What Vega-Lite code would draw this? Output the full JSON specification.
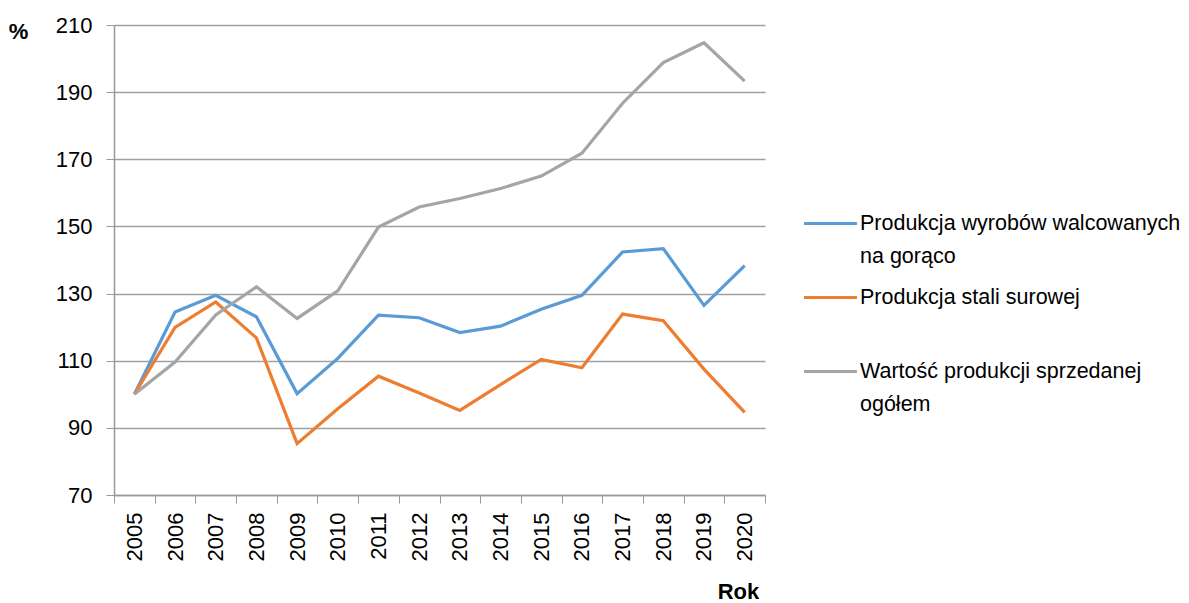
{
  "$schema": "https://vega.github.io/schema/vega-lite/v6.json",
  "width": 651,
  "height": 470,
  "autosize": {"type": "none"},
  "padding": {"left": 114, "top": 25, "right": 424, "bottom": 108},
  "background": "white",
  "config": {
    "view": {"stroke": null},
    "font": "Liberation Sans",
    "style": {"guide-label": {"lineHeight": 33}}
  },
  "data": {
    "values": [
      {"year": "2005", "series": "Produkcja wyrobów walcowanych na gorąco", "value": 100},
      {"year": "2006", "series": "Produkcja wyrobów walcowanych na gorąco", "value": 124.5},
      {"year": "2007", "series": "Produkcja wyrobów walcowanych na gorąco", "value": 129.5},
      {"year": "2008", "series": "Produkcja wyrobów walcowanych na gorąco", "value": 123.1},
      {"year": "2009", "series": "Produkcja wyrobów walcowanych na gorąco", "value": 100.2},
      {"year": "2010", "series": "Produkcja wyrobów walcowanych na gorąco", "value": 110.7},
      {"year": "2011", "series": "Produkcja wyrobów walcowanych na gorąco", "value": 123.6},
      {"year": "2012", "series": "Produkcja wyrobów walcowanych na gorąco", "value": 122.8},
      {"year": "2013", "series": "Produkcja wyrobów walcowanych na gorąco", "value": 118.4},
      {"year": "2014", "series": "Produkcja wyrobów walcowanych na gorąco", "value": 120.3},
      {"year": "2015", "series": "Produkcja wyrobów walcowanych na gorąco", "value": 125.3},
      {"year": "2016", "series": "Produkcja wyrobów walcowanych na gorąco", "value": 129.5},
      {"year": "2017", "series": "Produkcja wyrobów walcowanych na gorąco", "value": 142.4},
      {"year": "2018", "series": "Produkcja wyrobów walcowanych na gorąco", "value": 143.4},
      {"year": "2019", "series": "Produkcja wyrobów walcowanych na gorąco", "value": 126.5},
      {"year": "2020", "series": "Produkcja wyrobów walcowanych na gorąco", "value": 138.3},
      {"year": "2005", "series": "Produkcja stali surowej", "value": 100},
      {"year": "2006", "series": "Produkcja stali surowej", "value": 119.9},
      {"year": "2007", "series": "Produkcja stali surowej", "value": 127.5},
      {"year": "2008", "series": "Produkcja stali surowej", "value": 116.8},
      {"year": "2009", "series": "Produkcja stali surowej", "value": 85.3},
      {"year": "2010", "series": "Produkcja stali surowej", "value": 95.7},
      {"year": "2011", "series": "Produkcja stali surowej", "value": 105.4},
      {"year": "2012", "series": "Produkcja stali surowej", "value": 100.4},
      {"year": "2013", "series": "Produkcja stali surowej", "value": 95.2},
      {"year": "2014", "series": "Produkcja stali surowej", "value": 102.9},
      {"year": "2015", "series": "Produkcja stali surowej", "value": 110.4},
      {"year": "2016", "series": "Produkcja stali surowej", "value": 107.9},
      {"year": "2017", "series": "Produkcja stali surowej", "value": 123.9},
      {"year": "2018", "series": "Produkcja stali surowej", "value": 121.9},
      {"year": "2019", "series": "Produkcja stali surowej", "value": 107.5},
      {"year": "2020", "series": "Produkcja stali surowej", "value": 94.6},
      {"year": "2005", "series": "Wartość produkcji sprzedanej ogółem", "value": 100},
      {"year": "2006", "series": "Wartość produkcji sprzedanej ogółem", "value": 109.6},
      {"year": "2007", "series": "Wartość produkcji sprzedanej ogółem", "value": 123.6},
      {"year": "2008", "series": "Wartość produkcji sprzedanej ogółem", "value": 132},
      {"year": "2009", "series": "Wartość produkcji sprzedanej ogółem", "value": 122.6},
      {"year": "2010", "series": "Wartość produkcji sprzedanej ogółem", "value": 130.8},
      {"year": "2011", "series": "Wartość produkcji sprzedanej ogółem", "value": 149.8},
      {"year": "2012", "series": "Wartość produkcji sprzedanej ogółem", "value": 155.8},
      {"year": "2013", "series": "Wartość produkcji sprzedanej ogółem", "value": 158.3},
      {"year": "2014", "series": "Wartość produkcji sprzedanej ogółem", "value": 161.3},
      {"year": "2015", "series": "Wartość produkcji sprzedanej ogółem", "value": 165},
      {"year": "2016", "series": "Wartość produkcji sprzedanej ogółem", "value": 171.8},
      {"year": "2017", "series": "Wartość produkcji sprzedanej ogółem", "value": 186.7},
      {"year": "2018", "series": "Wartość produkcji sprzedanej ogółem", "value": 198.8},
      {"year": "2019", "series": "Wartość produkcji sprzedanej ogółem", "value": 204.7},
      {"year": "2020", "series": "Wartość produkcji sprzedanej ogółem", "value": 193.3}
    ]
  },
  "mark": {"type": "line", "strokeWidth": 3.2},
  "encoding": {
    "x": {
      "field": "year",
      "type": "ordinal",
      "scale": {"type": "band", "paddingInner": 0, "paddingOuter": 0},
      "bandPosition": 0.5,
      "axis": {
        "title": "Rok",
        "titleFont": "Liberation Sans",
        "titleFontWeight": "bold",
        "titleFontSize": 22,
        "titleColor": "#000",
        "titleX": 624,
        "titleY": 96,
        "titleAlign": "center",
        "titleBaseline": "middle",
        "labelAngle": -90,
        "labelFontSize": 22,
        "labelColor": "#000",
        "labelPadding": 9,
        "tickBand": "extent",
        "tickSize": 8,
        "tickColor": "#999",
        "domainColor": "#999",
        "domainWidth": 1.5,
        "grid": false
      }
    },
    "y": {
      "field": "value",
      "type": "quantitative",
      "scale": {"domain": [70, 210], "nice": false, "zero": false},
      "axis": {
        "values": [70, 90, 110, 130, 150, 170, 190, 210],
        "title": "%",
        "titleFont": "Liberation Sans",
        "titleFontWeight": "bold",
        "titleFontSize": 22,
        "titleColor": "#000",
        "titleAngle": 0,
        "titleX": -96,
        "titleY": 6,
        "titleAlign": "center",
        "titleBaseline": "middle",
        "labelFontSize": 22,
        "labelColor": "#000",
        "labelPadding": 14,
        "tickSize": 8,
        "tickColor": "#999",
        "domainColor": "#999",
        "domainWidth": 1.5,
        "gridColor": "#a0a0a0",
        "gridWidth": 1.5
      }
    },
    "color": {
      "field": "series",
      "type": "nominal",
      "scale": {
        "domain": ["Produkcja wyrobów walcowanych na gorąco", "Produkcja stali surowej", "Wartość produkcji sprzedanej ogółem"],
        "range": ["#5B9BD5", "#ED7D31", "#A5A5A5"]
      },
      "legend": {
        "orient": "none",
        "legendX": 688,
        "legendY": 170,
        "title": null,
        "symbolType": "stroke",
        "symbolSize": 2800,
        "symbolStrokeWidth": 3.2,
        "labelFontSize": 21.5,
        "labelColor": "#000",
        "labelLimit": 0,
        "labelOffset": 1,
        "rowPadding": 2,
        "labelExpr": "datum.label == 'Produkcja wyrobów walcowanych na gorąco' ? ['Produkcja wyrobów walcowanych', 'na gorąco'] : datum.label == 'Wartość produkcji sprzedanej ogółem' ? ['Wartość produkcji sprzedanej', 'ogółem'] : [datum.label, ' ']"
      }
    }
  }
}
